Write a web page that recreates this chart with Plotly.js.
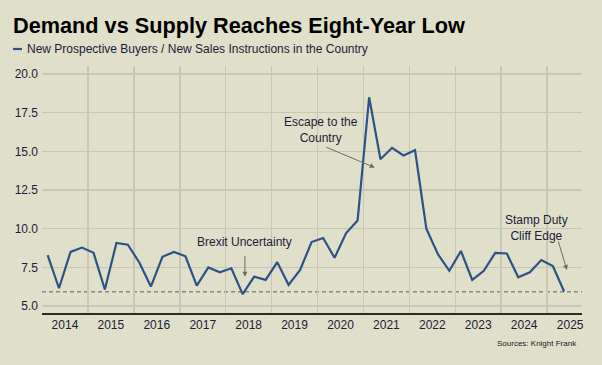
<!DOCTYPE html>
<html>
<head>
<meta charset="utf-8">
<script src="https://cdn.plot.ly/plotly-3.0.1.min.js"></script>
<style>html,body{margin:0;padding:0;background:#e0dfc9;}#chart{width:602px;height:365px;}</style>
</head>
<body>
<div id="chart"></div>
<script>
// Quarter mid-points (2014 Q1 .. 2025 Q2)
const quarters = [
  "2014-02-15","2014-05-16","2014-08-16","2014-11-15",
  "2015-02-15","2015-05-16","2015-08-16","2015-11-15",
  "2016-02-15","2016-05-16","2016-08-16","2016-11-15",
  "2017-02-15","2017-05-16","2017-08-16","2017-11-15",
  "2018-02-15","2018-05-16","2018-08-16","2018-11-15",
  "2019-02-15","2019-05-16","2019-08-16","2019-11-15",
  "2020-02-15","2020-05-16","2020-08-16","2020-11-15",
  "2021-02-15","2021-05-16","2021-08-16","2021-11-15",
  "2022-02-15","2022-05-16","2022-08-16","2022-11-15",
  "2023-02-15","2023-05-16","2023-08-16","2023-11-15",
  "2024-02-15","2024-05-16","2024-08-16","2024-11-15",
  "2025-02-15","2025-05-16"
];
const ratio = [
  8.29, 6.15, 8.50, 8.78,
  8.44, 6.07, 9.08, 8.97,
  7.80, 6.26, 8.18, 8.50,
  8.22, 6.32, 7.50, 7.18,
  7.44, 5.77, 6.90, 6.69,
  7.84, 6.37, 7.33, 9.14,
  9.40, 8.12, 9.72, 10.53,
  18.50, 14.49, 15.23, 14.74,
  15.08, 10.00, 8.35, 7.28,
  8.56, 6.69, 7.28, 8.44,
  8.40, 6.86, 7.18, 7.97,
  7.58, 5.94
];
const lowLevel = 5.93;
const yTicks = [5, 7.5, 10, 12.5, 15, 17.5, 20];
const seriesName = "New Prospective Buyers / New Sales Instructions in the Country";
const chartTitle = "Demand vs Supply Reaches Eight-Year Low";
const sourceText = "Sources: Knight Frank";
const notes = [
  {text: "Brexit Uncertainty", x: "2018-06-03", y: 9.14},
  {text: "Escape to the<br>Country", x: "2020-01-30", y: 16.4},
  {text: "Stamp Duty<br>Cliff Edge", x: "2024-10-12", y: 10.06}
];
const arrows = [
  {x: "2018-06-03", y: 6.9, ax: 0, ay: -22},
  {x: "2021-04-01", y: 13.95, ax: -50, ay: -21},
  {x: "2025-06-07", y: 7.33, ax: -9, ay: -30}
];

const bg = "#e0dfc9";
const lineColor = "#2d5286";
const textColor = "#1c1c36";
const font = "Liberation Sans, Arial, sans-serif";

const trace = {
  x: quarters, y: ratio, type: "scatter", mode: "lines",
  name: seriesName, line: {color: lineColor, width: 2.2}, showlegend: false,
  hovertemplate: "%{x}: %{y:.2f}<extra></extra>"
};

const annotations = [];
notes.forEach(n => annotations.push({
  x: n.x, y: n.y, xref: "x", yref: "y", text: n.text, showarrow: false,
  font: {family: font, size: 12, color: textColor}, align: "center"
}));
arrows.forEach(a => annotations.push({
  x: a.x, y: a.y, xref: "x", yref: "y", text: "", showarrow: true,
  ax: a.ax, ay: a.ay, arrowhead: 2, arrowsize: 1, arrowwidth: 1, arrowcolor: "#6e6e66"
}));
annotations.push({
  xref: "paper", yref: "paper", x: (25 - 42) / 540, y: (313 - 49) / 247,
  xanchor: "left", yanchor: "middle", text: seriesName, showarrow: false,
  font: {family: font, size: 12, color: textColor}
});
annotations.push({
  xref: "paper", yref: "paper", x: (579 - 42) / 540, y: (313 - 343) / 247,
  xanchor: "right", yanchor: "middle", text: sourceText, showarrow: false,
  font: {family: "Liberation Sans Narrow, Arial Narrow, " + font, size: 8, color: "#1a1a1a"}
});

const layout = {
  width: 602, height: 365,
  paper_bgcolor: bg, plot_bgcolor: bg,
  margin: {l: 42, r: 20, t: 66, b: 52},
  title: {
    text: "<b>" + chartTitle + "</b>", xref: "container", yref: "container",
    x: 13 / 602, xanchor: "left", y: 1 - 25 / 365, yanchor: "middle",
    font: {family: font, size: 21.7, color: "#000"}
  },
  xaxis: {
    type: "date", range: ["2014-01-01", "2025-10-05"],
    tick0: "2014-01-01", dtick: "M12", tickformat: "%Y", ticklabelmode: "period",
    showgrid: true, gridcolor: "#c8c7b5", gridwidth: 1.5,
    showline: true, linecolor: "#2a2a2a", linewidth: 1.5,
    ticks: "", zeroline: false,
    tickfont: {family: font, size: 12, color: textColor}
  },
  yaxis: {
    range: [4.55, 20.52], tickvals: yTicks, tickformat: ".1f",
    showgrid: true, gridcolor: "#c8c7b5", gridwidth: 1.5,
    zeroline: false, showline: false, ticks: "", ticklabelstandoff: 3,
    tickfont: {family: font, size: 12, color: textColor}
  },
  shapes: [
    {type: "line", xref: "paper", yref: "y", x0: 0, x1: 1, y0: lowLevel, y1: lowLevel,
     line: {color: "#8a8a84", width: 1.5, dash: "4px,3px"}, layer: "below"},
    {type: "line", xref: "paper", yref: "paper",
     x0: (13 - 42) / 540, x1: (22 - 42) / 540, y0: (313 - 49) / 247, y1: (313 - 49) / 247,
     line: {color: lineColor, width: 2.2}}
  ],
  annotations: annotations,
  showlegend: false
};

Plotly.newPlot("chart", [trace], layout, {displayModeBar: false, staticPlot: true});
</script>
</body>
</html>
